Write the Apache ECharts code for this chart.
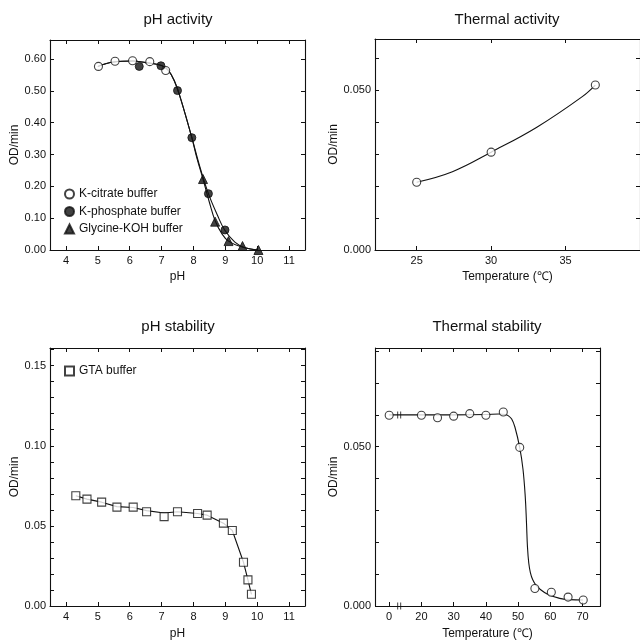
<!DOCTYPE html>
<html><head><meta charset="utf-8">
<script src="https://cdn.jsdelivr.net/npm/echarts@6.0.0/dist/echarts.min.js"></script>
<style>html,body{margin:0;padding:0;background:#fff}#c{width:640px;height:641px}</style>
</head><body><div id="c"></div>
<script>
// ---------- Data ----------
// Panel A: pH activity
const citratePH   = [5.02, 5.54, 6.09, 6.63, 7.13];
const citrateOD   = [0.577, 0.593, 0.595, 0.592, 0.564];
const phosphatePH = [6.30, 6.98, 7.50, 7.95, 8.47, 8.99];
const phosphateOD = [0.577, 0.579, 0.501, 0.353, 0.177, 0.063];
const glycinePH   = [8.30, 8.68, 9.10, 9.54, 10.04];
const glycineOD   = [0.223, 0.089, 0.028, 0.0125, 0.0];
// fitted curves
const curvePhosPH = [5.0, 5.5, 6.1, 6.5, 7.0, 7.2, 7.4, 7.6, 7.95, 8.2, 8.47, 8.75, 8.98, 9.3, 9.6, 10.0];
const curvePhosOD = [0.577, 0.591, 0.594, 0.589, 0.580, 0.566, 0.532, 0.475, 0.353, 0.262, 0.177, 0.110, 0.063, 0.025, 0.008, 0.0];
const curveGlyPH  = [5.0, 5.5, 6.1, 6.5, 7.0, 7.2, 7.4, 7.6, 7.95, 8.1, 8.3, 8.5, 8.68, 8.9, 9.1, 9.5, 10.0];
const curveGlyOD  = [0.577, 0.591, 0.594, 0.589, 0.580, 0.566, 0.532, 0.475, 0.353, 0.292, 0.223, 0.150, 0.092, 0.050, 0.028, 0.010, 0.0];
const actPHTicks  = [4, 5, 6, 7, 8, 9, 10, 11];
const actODTicks  = [0, 0.1, 0.2, 0.3, 0.4, 0.5, 0.6];

// Panel B: Thermal activity
const thermActT  = [25, 30, 37];
const thermActOD = [0.0212, 0.0306, 0.0516];
const curveActT  = [25, 27.4, 30, 33.1, 36.1, 37];
const curveActOD = [0.0212, 0.0245, 0.0306, 0.0385, 0.0479, 0.0516];
const thermActTTicks  = [25, 30, 35];
const thermActODTicks = [0, 0.01, 0.02, 0.03, 0.04, 0.05, 0.06];
const thermActODLabels = [0, 0.05];

// Panel C: pH stability
const gtaPH = [4.31, 4.66, 5.12, 5.60, 6.11, 6.53, 7.08, 7.50, 8.13, 8.43, 8.94, 9.22, 9.57, 9.71, 9.82];
const gtaOD = [0.0688, 0.0667, 0.0648, 0.0617, 0.0617, 0.0588, 0.0558, 0.0588, 0.0577, 0.0567, 0.0517, 0.0471, 0.0273, 0.0163, 0.0073];
const curveGtaPH = [4.31, 4.66, 5.12, 5.60, 6.11, 6.53, 7.08, 7.50, 8.13, 8.43, 8.94, 9.22, 9.57, 9.71, 9.82];
const curveGtaOD = [0.0688, 0.0667, 0.0648, 0.0620, 0.0615, 0.0595, 0.0580, 0.0588, 0.0577, 0.0567, 0.0517, 0.0471, 0.0273, 0.0163, 0.0073];
const stabODTicks  = [0,0.01,0.02,0.03,0.04,0.05,0.06,0.07,0.08,0.09,0.10,0.11,0.12,0.13,0.14,0.15,0.16];
const stabODLabels = [0, 0.05, 0.10, 0.15];

// Panel D: Thermal stability
const thermStabT  = [0, 20, 25, 30, 35, 40, 45.4, 50.5, 55.2, 60.3, 65.5, 70.2];
const thermStabOD = [0.0599, 0.0599, 0.0591, 0.0596, 0.0604, 0.0599, 0.0609, 0.0498, 0.0055, 0.0043, 0.0028, 0.0019];
const curveStabT  = [0, 20, 30, 40, 44, 46, 47, 48, 49, 50.5, 51.5, 52.2, 52.6, 52.9, 53.3, 53.8, 54.5, 55.5, 57, 59, 62.9, 66, 70.1];
const curveStabOD = [0.0600, 0.0600, 0.0600, 0.0601, 0.0603, 0.0601, 0.0597, 0.0587, 0.0562, 0.0497, 0.0430, 0.0345, 0.0260, 0.0185, 0.0135, 0.0105, 0.0083, 0.0066, 0.0051, 0.0038, 0.0024, 0.0020, 0.0019];
const thermStabTTicks  = [0, 20, 30, 40, 50, 60, 70];
const thermStabODTicks = [0, 0.01, 0.02, 0.03, 0.04, 0.05, 0.06, 0.07, 0.08];
const thermStabODLabels = [0, 0.05];
const breakMarkT  = [3.1, 3.1];
const breakMarkOD = [0.0600, 0.0];

// ---------- Chart ----------
const ink = '#111';
const ff = '"Liberation Sans", Arial, sans-serif';
const pairs = (xs, ys) => xs.map((x, i) => [x, ys[i]]);

function axis(o) {
  const showLab = !o.hideLabel;
  const a = {
    gridIndex: o.g, type: 'value', min: o.min, max: o.max, position: o.pos,
    axisLine: { show: true, onZero: false, lineStyle: { color: ink, width: 1.1 } },
    axisTick: { show: true, inside: true, length: 4, customValues: o.ticks, lineStyle: { color: ink, width: 1 } },
    axisLabel: { show: showLab, customValues: o.labels || o.ticks, margin: o.margin || 5,
      fontSize: 11, color: ink, fontFamily: ff, formatter: o.fmt },
    splitLine: { show: false }
  };
  if (o.name) {
    a.name = o.name; a.nameLocation = 'middle'; a.nameGap = o.nameGap;
    a.nameTextStyle = { fontSize: 12, color: ink, fontFamily: ff };
  }
  if (o.breaks) { a.breaks = o.breaks; a.breakArea = { show: false }; }
  return a;
}
const f2 = v => v.toFixed(2), f3 = v => v.toFixed(3), f0 = v => String(Math.round(v));

const stabBreaks = [{ start: 5, end: 15, gap: 0 }];

const option = {
  animation: false,
  backgroundColor: '#fff',
  grid: [
    { left: 50, top: 40, width: 255, height: 210 },
    { left: 375, top: 39, width: 287, height: 211 },
    { left: 50, top: 348, width: 255, height: 259 },
    { left: 375, top: 348, width: 225, height: 258 }
  ],
  xAxis: [
    axis({ g: 0, min: 3.5, max: 11.5, pos: 'bottom', ticks: actPHTicks, fmt: f0, name: 'pH', nameGap: 21 }),
    axis({ g: 0, min: 3.5, max: 11.5, pos: 'top', ticks: actPHTicks, hideLabel: true }),
    axis({ g: 1, min: 22.2, max: 40, pos: 'bottom', ticks: thermActTTicks, fmt: f0, name: 'Temperature (℃)', nameGap: 21 }),
    axis({ g: 1, min: 22.2, max: 40, pos: 'top', ticks: thermActTTicks, hideLabel: true }),
    axis({ g: 2, min: 3.5, max: 11.5, pos: 'bottom', ticks: actPHTicks, fmt: f0, name: 'pH', nameGap: 22 }),
    axis({ g: 2, min: 3.5, max: 11.5, pos: 'top', ticks: actPHTicks, hideLabel: true }),
    axis({ g: 3, min: -4.4, max: 75.4, pos: 'bottom', ticks: thermStabTTicks, fmt: f0, name: 'Temperature (℃)', nameGap: 22, breaks: stabBreaks }),
    axis({ g: 3, min: -4.4, max: 75.4, pos: 'top', ticks: thermStabTTicks, hideLabel: true, breaks: stabBreaks })
  ],
  yAxis: [
    axis({ g: 0, min: 0, max: 0.66, pos: 'left', ticks: actODTicks, fmt: f2, margin: 4, name: 'OD/min', nameGap: 29 }),
    axis({ g: 0, min: 0, max: 0.66, pos: 'right', ticks: actODTicks, hideLabel: true }),
    axis({ g: 1, min: 0, max: 0.066, pos: 'left', ticks: thermActODTicks, labels: thermActODLabels, fmt: f3, margin: 4, name: 'OD/min', nameGap: 29 }),
    axis({ g: 1, min: 0, max: 0.066, pos: 'right', ticks: thermActODTicks, hideLabel: true }),
    axis({ g: 2, min: 0, max: 0.161, pos: 'left', ticks: stabODTicks, labels: stabODLabels, fmt: f2, margin: 4, name: 'OD/min', nameGap: 29 }),
    axis({ g: 2, min: 0, max: 0.161, pos: 'right', ticks: stabODTicks, hideLabel: true }),
    axis({ g: 3, min: 0, max: 0.081, pos: 'left', ticks: thermStabODTicks, labels: thermStabODLabels, fmt: f3, margin: 4, name: 'OD/min', nameGap: 29 }),
    axis({ g: 3, min: 0, max: 0.081, pos: 'right', ticks: thermStabODTicks, hideLabel: true })
  ],
  legend: [
    { data: [{ name: 'K-citrate buffer', icon: 'circle' }, { name: 'K-phosphate buffer', icon: 'circle' }, { name: 'Glycine-KOH buffer', icon: 'triangle' }],
      orient: 'vertical', left: 64, top: 188, itemWidth: 9, itemHeight: 9, itemGap: 5.5, padding: 0,
      selectedMode: false, textStyle: { fontSize: 12, color: ink, fontFamily: ff } },
    { data: [{ name: 'GTA buffer', icon: 'rect' }],
      orient: 'vertical', left: 64, top: 365, itemWidth: 9, itemHeight: 9, padding: 0,
      selectedMode: false, textStyle: { fontSize: 12, color: ink, fontFamily: ff } }
  ],
  graphic: [
    { type: 'text', x: 178, y: 20, style: { text: 'pH activity', font: '15px ' + ff, fill: ink, textAlign: 'center', textVerticalAlign: 'middle' } },
    { type: 'text', x: 507, y: 20, style: { text: 'Thermal activity', font: '15px ' + ff, fill: ink, textAlign: 'center', textVerticalAlign: 'middle' } },
    { type: 'text', x: 178, y: 327, style: { text: 'pH stability', font: '15px ' + ff, fill: ink, textAlign: 'center', textVerticalAlign: 'middle' } },
    { type: 'text', x: 487, y: 327, style: { text: 'Thermal stability', font: '15px ' + ff, fill: ink, textAlign: 'center', textVerticalAlign: 'middle' } }
  ],
  series: []
};

const lineS = (xi, yi, data, smooth) => ({ type: 'line', xAxisIndex: xi, yAxisIndex: yi, data, symbol: 'none',
  smooth: smooth, lineStyle: { color: ink, width: 1.1 }, z: 2, silent: true });
const openSym = { color: '#fff', borderColor: ink, borderWidth: 1.1 };
const fillSym = { color: ink, borderColor: ink, borderWidth: 1 };
const scat = (name, xi, yi, data, symbol, size, style) => ({ type: 'scatter', name, xAxisIndex: xi, yAxisIndex: yi, data,
  symbol, symbolSize: size, itemStyle: style, z: 3, silent: true });

option.series.push(
  lineS(0, 0, pairs(curvePhosPH, curvePhosOD), 0.4),
  lineS(0, 0, pairs(curveGlyPH, curveGlyOD), 0.4),
  scat('K-citrate buffer', 0, 0, pairs(citratePH, citrateOD), 'circle', 8, openSym),
  scat('K-phosphate buffer', 0, 0, pairs(phosphatePH, phosphateOD), 'circle', 8, fillSym),
  scat('Glycine-KOH buffer', 0, 0, pairs(glycinePH, glycineOD), 'triangle', 9, fillSym),

  lineS(2, 2, pairs(curveActT, curveActOD), 0.4),
  scat('thermAct', 2, 2, pairs(thermActT, thermActOD), 'circle', 8, openSym),

  lineS(4, 4, pairs(curveGtaPH, curveGtaOD), false),
  scat('GTA buffer', 4, 4, pairs(gtaPH, gtaOD), 'rect', 8, openSym),

  lineS(6, 6, pairs(curveStabT, curveStabOD), 0.4),
  scat('thermStab', 6, 6, pairs(thermStabT, thermStabOD), 'circle', 8, openSym),
  scat('break', 6, 6, pairs(breakMarkT, breakMarkOD), 'path://M0,0h1v10h-1z M3,0h1v10h-1z', [4, 7], { color: ink })
);

const chart = echarts.init(document.getElementById('c'), null, { renderer: 'canvas' });
chart.setOption(option);
</script></body></html>
